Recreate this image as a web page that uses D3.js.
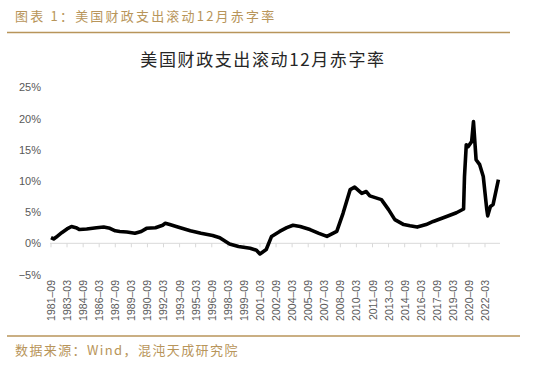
<!DOCTYPE html>
<html>
<head>
<meta charset="utf-8">
<script src="https://cdn.jsdelivr.net/npm/d3@7"></script>
<style>
  body { margin: 0; background: #fff; }
  svg { display: block; }
</style>
</head>
<body>
<svg id="chart" width="534" height="366"></svg>
<script>
// 滚动12月赤字率, % of GDP
var dates = ["1981-09","1981-12","1982-03","1982-09","1983-03","1983-08","1984-01","1984-05","1985-01","1985-12","1986-08","1987-03","1987-09","1988-02","1988-10","1989-07","1990-02","1990-08","1991-06","1992-02","1992-05","1992-10","1993-07","1994-09","1995-09","1996-10","1997-06","1998-05","1999-03","2000-04","2000-11","2001-03","2001-10","2002-04","2003-01","2003-09","2004-04","2004-12","2005-11","2006-09","2007-06","2008-05","2008-12","2009-08","2010-01","2010-09","2011-02","2011-06","2012-07","2013-03","2013-10","2014-08","2015-03","2015-11","2016-09","2017-05","2018-08","2019-07","2020-03","2020-04","2020-06","2020-08","2020-12","2021-02","2021-05","2021-09","2022-01","2022-05","2022-06","2022-09","2022-12","2023-06"];
var deficit = [0.9,0.7,1.0,1.7,2.3,2.7,2.5,2.2,2.3,2.5,2.6,2.4,2.0,1.9,1.8,1.6,1.9,2.4,2.5,2.9,3.2,3.0,2.6,2.0,1.6,1.25,0.9,-0.1,-0.5,-0.8,-1.1,-1.7,-1.0,1.1,1.9,2.5,2.9,2.7,2.2,1.6,1.1,1.9,4.8,8.6,9.0,8.0,8.3,7.6,7.0,5.4,3.8,3.0,2.8,2.6,3.0,3.5,4.3,4.9,5.5,10.7,15.8,15.5,16.3,19.5,13.4,12.6,10.7,5.4,4.4,5.9,6.2,10.2];
var xTickLabels = ["1981-09","1983-03","1984-09","1986-03","1987-09","1989-03","1990-09","1992-03","1993-09","1995-03","1996-09","1998-03","1999-09","2001-03","2002-09","2004-03","2005-09","2007-03","2008-09","2010-03","2011-09","2013-03","2014-09","2016-03","2017-09","2019-03","2020-09","2022-03"];
var yTicks = [-5, 0, 5, 10, 15, 20, 25];

var gold = "#b8955a";
var parse = d3.timeParse("%Y-%m");
var svg = d3.select("#chart");

var x = d3.scaleTime()
  .domain([parse("1981-09"), parse("2022-03")])
  .range([51, 485]);
var y = d3.scaleLinear()
  .domain([-5, 25])
  .range([274.5, 87.3]);

// header
svg.append("text")
  .attr("x", 15).attr("y", 21)
  .attr("fill", gold)
  .style("font-family", "'Noto Sans CJK SC'")
  .style("font-size", "13px")
  .style("letter-spacing", "2.2px")
  .text("图表 1：美国财政支出滚动12月赤字率");
svg.append("line")
  .attr("x1", 7).attr("x2", 510).attr("y1", 32.5).attr("y2", 32.5)
  .attr("stroke", gold).attr("stroke-width", 1.5);

svg.append("text")
  .attr("x", 263).attr("y", 66)
  .attr("text-anchor", "middle")
  .attr("fill", "#262626")
  .style("font-family", "'Noto Sans CJK SC'")
  .style("font-size", "17px")
  .style("letter-spacing", "1.6px")
  .text("美国财政支出滚动12月赤字率");

// y labels
svg.append("g").selectAll("text")
  .data(yTicks)
.enter().append("text")
  .attr("x", 41)
  .attr("y", function(d) { return y(d) + 4; })
  .attr("text-anchor", "end")
  .attr("fill", "#595959")
  .style("font-family", "'Liberation Sans', Arial")
  .style("font-size", "11px")
  .text(function(d) { return (d < 0 ? "\u2212" + (-d) : d) + "%"; });

// zero line + ticks
svg.append("line")
  .attr("x1", 50).attr("x2", 500)
  .attr("y1", y(0)).attr("y2", y(0))
  .attr("stroke", "#d9d9d9");
svg.append("g").selectAll("line")
  .data(xTickLabels)
.enter().append("line")
  .attr("x1", function(d) { return x(parse(d)); })
  .attr("x2", function(d) { return x(parse(d)); })
  .attr("y1", y(0)).attr("y2", y(0) + 4)
  .attr("stroke", "#d9d9d9");

// x labels, rotated
svg.append("g").selectAll("text")
  .data(xTickLabels)
.enter().append("text")
  .attr("transform", function(d) { return "translate(" + (x(parse(d)) + 4) + ",280) rotate(-90)"; })
  .attr("text-anchor", "end")
  .attr("fill", "#595959")
  .style("font-family", "'Liberation Sans', Arial")
  .style("font-size", "10.5px")
  .text(function(d) { return d.replace("-", "\u2013"); });

// the series
var pts = dates.map(function(d, i) { return [parse(d), deficit[i]]; });
svg.append("path")
  .datum(pts)
  .attr("fill", "none")
  .attr("stroke", "#000")
  .attr("stroke-width", 3.6)
  .attr("stroke-linejoin", "round")
  .attr("d", d3.line()
    .x(function(d) { return x(d[0]); })
    .y(function(d) { return y(d[1]); }));

// footer
svg.append("line")
  .attr("x1", 7).attr("x2", 520).attr("y1", 336).attr("y2", 336)
  .attr("stroke", gold).attr("stroke-width", 1.5);
svg.append("text")
  .attr("x", 15).attr("y", 355)
  .attr("fill", gold)
  .style("font-family", "'Noto Sans CJK SC'")
  .style("font-size", "13px")
  .style("letter-spacing", "1.4px")
  .text("数据来源：Wind，混沌天成研究院");
</script>
</body>
</html>
